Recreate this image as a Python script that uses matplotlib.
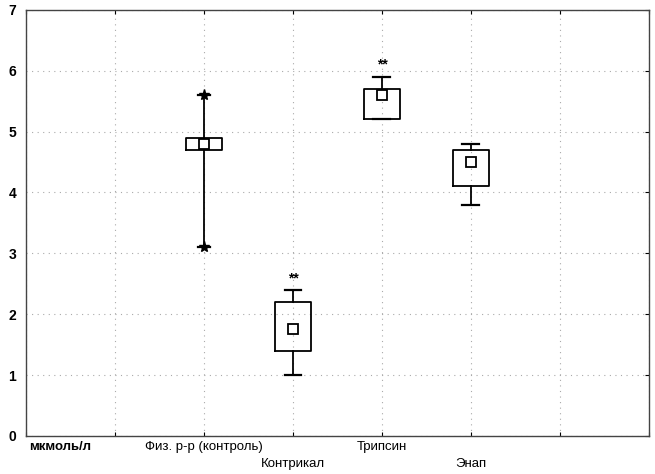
import matplotlib.pyplot as plt

plt.rcParams['font.family'] = ['Liberation Sans', 'DejaVu Sans']

# groups and their box statistics (мкмоль/л)
groups = ['Физ. р-р (контроль)', 'Контрикал', 'Трипсин', 'Энап']
positions = [2, 3, 4, 5]
centers = [4.8, 1.75, 5.6, 4.5]
box_low = [4.7, 1.4, 5.2, 4.1]
box_high = [4.9, 2.2, 5.7, 4.7]
whisk_low = [3.1, 1.0, 5.2, 3.8]
whisk_high = [5.6, 2.4, 5.9, 4.8]
marks = ['', '**', '**', '']

stats = []
for i, g in enumerate(groups):
    stats.append({'label': g, 'med': centers[i], 'mean': centers[i],
                  'q1': box_low[i], 'q3': box_high[i],
                  'whislo': whisk_low[i], 'whishi': whisk_high[i], 'fliers': []})

fig = plt.figure(figsize=(6.55, 4.74), dpi=100)
ax = fig.add_axes([0.0397, 0.0802, 0.951, 0.899])

ax.bxp(stats, positions=positions, widths=0.4, showmeans=True,
       capwidths=[0.13, 0.19, 0.19, 0.19],
       boxprops=dict(color='black', linewidth=1.3),
       whiskerprops=dict(color='black', linewidth=1.3),
       capprops=dict(color='black', linewidth=1.6),
       medianprops=dict(linewidth=0),
       meanprops=dict(marker='s', markerfacecolor='white', markeredgecolor='black',
                      markersize=7, markeredgewidth=1.3))

# star markers on the control group whisker ends
ax.plot([positions[0]] * 2, [whisk_low[0], whisk_high[0]], ls='none', marker='*',
        color='black', markersize=8)

# significance marks above the whiskers
for p, top, m in zip(positions, whisk_high, marks):
    if m:
        ax.text(p, top + 0.08, m, ha='center', va='bottom', fontsize=10, fontweight='bold')

ax.set_xlim(0, 7)
ax.set_ylim(0, 7)
ax.set_xticks(range(8))
ax.set_xticklabels([])
ax.set_yticks(range(8))
ax.set_yticklabels([str(v) for v in range(8)], fontsize=10, fontweight='bold')
ax.tick_params(axis='y', length=0, pad=7)
ax.tick_params(axis='x', length=0)
ax.tick_params(right=True, top=True, direction='in', length=3)
ax.tick_params(axis='y', left=False)
ax.grid(True, linestyle=(0, (1, 4)), color='#aaaaaa', linewidth=0.8)
for s in ax.spines.values():
    s.set_color('#444444')
    s.set_linewidth(1.0)

# category labels under the axis, staggered in two rows
xt = ax.get_xaxis_transform()
ax.text(0.03, -0.012, 'мкмоль/л', ha='left', va='top', fontsize=9.5, fontweight='bold',
        transform=xt)
for i, (p, g) in enumerate(zip(positions, groups)):
    y = -0.012 if i % 2 == 0 else -0.052
    ax.text(p, y, g, ha='center', va='top', fontsize=9.5, transform=xt)

fig.savefig('out.png', dpi=100)
